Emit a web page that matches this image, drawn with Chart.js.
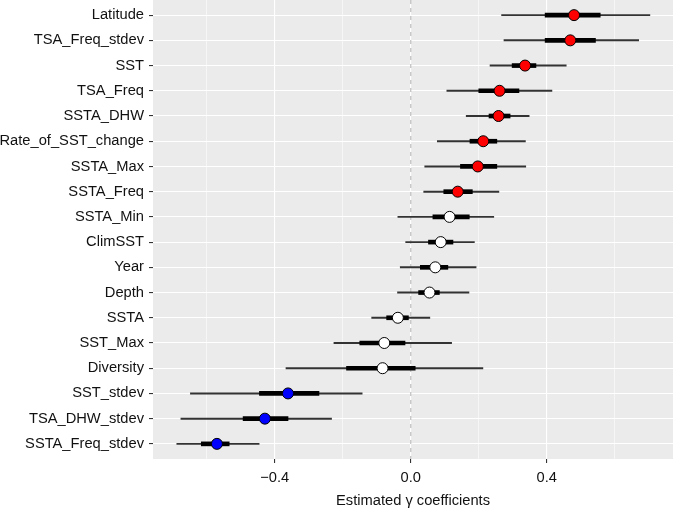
<!DOCTYPE html>
<html>
<head>
<meta charset="utf-8">
<script src="https://cdn.jsdelivr.net/npm/chart.js@4"></script>
<style>
  html, body { margin: 0; padding: 0; background: #fff; }
</style>
</head>
<body>
<canvas id="grafico" width="673" height="508"></canvas>
<script>
// one row per variable, top to bottom
const variables = ['Latitude', 'TSA_Freq_stdev', 'SST', 'TSA_Freq', 'SSTA_DHW', 'Rate_of_SST_change',
    'SSTA_Max', 'SSTA_Freq', 'SSTA_Min', 'ClimSST', 'Year', 'Depth', 'SSTA', 'SST_Max', 'Diversity',
    'SST_stdev', 'TSA_DHW_stdev', 'SSTA_Freq_stdev'];
const estimates = [0.480, 0.469, 0.336, 0.261, 0.258, 0.213, 0.197, 0.138, 0.114, 0.088, 0.072, 0.055,
    -0.038, -0.078, -0.083, -0.361, -0.429, -0.570];
const innerLow = [0.395, 0.395, 0.298, 0.200, 0.230, 0.174, 0.146, 0.097, 0.065, 0.052, 0.028, 0.023,
    -0.071, -0.150, -0.189, -0.445, -0.493, -0.616];
const innerHigh = [0.557, 0.543, 0.368, 0.318, 0.292, 0.253, 0.253, 0.181, 0.172, 0.124, 0.109, 0.084,
    -0.007, -0.017, 0.013, -0.270, -0.361, -0.534];
const outerLow = [0.267, 0.274, 0.233, 0.106, 0.163, 0.078, 0.041, 0.038, -0.038, -0.015, -0.031, -0.039,
    -0.115, -0.226, -0.367, -0.648, -0.676, -0.688];
const outerHigh = [0.703, 0.670, 0.457, 0.415, 0.348, 0.337, 0.338, 0.259, 0.244, 0.187, 0.192, 0.171,
    0.056, 0.120, 0.212, -0.143, -0.233, -0.446];
// 'pos' = positive effect, 'ns' = not significant, 'neg' = negative effect
const effect = ['pos', 'pos', 'pos', 'pos', 'pos', 'pos', 'pos', 'pos', 'ns', 'ns', 'ns', 'ns', 'ns', 'ns', 'ns',
    'neg', 'neg', 'neg'];
const xTicks = [-0.6, -0.4, -0.2, 0, 0.2, 0.4, 0.6];
const xLabels = { '-0.4': '\u22120.4', '0': '0.0', '0.4': '0.4' };

const FONT = 'Liberation Sans, Arial, Helvetica, sans-serif';
const colores = { pos: '#ff0000', ns: '#ffffff', neg: '#0000ff' };

const esMayor = (v) => xLabels[String(Math.round(v * 10) / 10)] !== undefined;

// ggplot-like axes: no extra room around the panel
const sinRelleno = (s) => {
    s.paddingTop = 0;
    s.paddingBottom = 0;
    s.paddingLeft = 0;
    s.paddingRight = 0;
};

const fondoPanel = {
    id: 'fondoPanel',
    beforeDraw(chart) {
        const { ctx, chartArea: a } = chart;
        ctx.save();
        ctx.fillStyle = '#ebebeb';
        ctx.fillRect(a.left, a.top, a.right - a.left, a.bottom - a.top);
        ctx.restore();
    },
    beforeDatasetsDraw(chart) {
        const { ctx, chartArea: a, scales } = chart;
        const x0 = scales.x.getPixelForValue(0);
        ctx.save();
        ctx.strokeStyle = '#b3b3b3';
        ctx.lineWidth = 1;
        ctx.setLineDash([4, 4]);
        ctx.beginPath();
        ctx.moveTo(x0, a.top);
        ctx.lineTo(x0, a.bottom);
        ctx.stroke();
        ctx.restore();
    },
};

new Chart(document.querySelector('#grafico'), {
    type: 'bar',
    data: {
        datasets: [
            {
                data: variables.map((v, i) => ({ x: [outerLow[i], outerHigh[i]], y: i })),
                backgroundColor: '#333333',
                barThickness: 1.3,
                grouped: false,
                borderWidth: 0,
                order: 3,
            },
            {
                data: variables.map((v, i) => ({ x: [innerLow[i], innerHigh[i]], y: i })),
                backgroundColor: '#000000',
                barThickness: 4,
                grouped: false,
                borderWidth: 0,
                order: 2,
            },
            {
                type: 'scatter',
                data: variables.map((v, i) => ({ x: estimates[i], y: i })),
                pointRadius: 5.5,
                pointBackgroundColor: effect.map((e) => colores[e]),
                pointBorderColor: '#000000',
                pointBorderWidth: 1,
                order: 1,
            },
        ],
    },
    options: {
        indexAxis: 'y',
        responsive: false,
        devicePixelRatio: 1,
        animation: false,
        layout: { padding: 0, autoPadding: false },
        plugins: { legend: { display: false }, tooltip: { enabled: false } },
        scales: {
            x: {
                type: 'linear',
                min: -0.758,
                max: 0.771,
                afterBuildTicks: (s) => { s.ticks = xTicks.map((v) => ({ value: v })); },
                afterFit: (s) => { s.height = 49; sinRelleno(s); },
                border: { display: false },
                grid: {
                    color: '#ffffff',
                    lineWidth: (c) => (esMayor(c.tick.value) ? 1.1 : 0.55),
                    tickColor: (c) => (esMayor(c.tick.value) ? '#333333' : 'rgba(0,0,0,0)'),
                    tickLength: 4,
                },
                ticks: {
                    autoSkip: false,
                    maxRotation: 0,
                    padding: 6,
                    color: '#111111',
                    font: { family: FONT, size: 14.7 },
                    callback: (v) => xLabels[String(Math.round(v * 10) / 10)] || '',
                },
                title: {
                    display: true,
                    text: 'Estimated \u03b3 coefficients',
                    color: '#111111',
                    font: { family: FONT, size: 14.7 },
                    padding: { top: 5, bottom: -2 },
                },
            },
            y: {
                type: 'linear',
                min: -0.6,
                max: 17.6,
                reverse: true,
                offset: false,
                afterBuildTicks: (s) => { s.ticks = variables.map((v, i) => ({ value: i })); },
                afterFit: (s) => { s.width = 153; sinRelleno(s); },
                border: { display: false },
                grid: { offset: false, color: '#ffffff', lineWidth: 1.1, tickColor: '#333333', tickLength: 4 },
                ticks: {
                    autoSkip: false,
                    padding: 5,
                    color: '#111111',
                    font: { family: FONT, size: 14.7 },
                    callback: (v, i) => variables[i],
                },
            },
        },
    },
    plugins: [fondoPanel],
});
</script>
</body>
</html>
